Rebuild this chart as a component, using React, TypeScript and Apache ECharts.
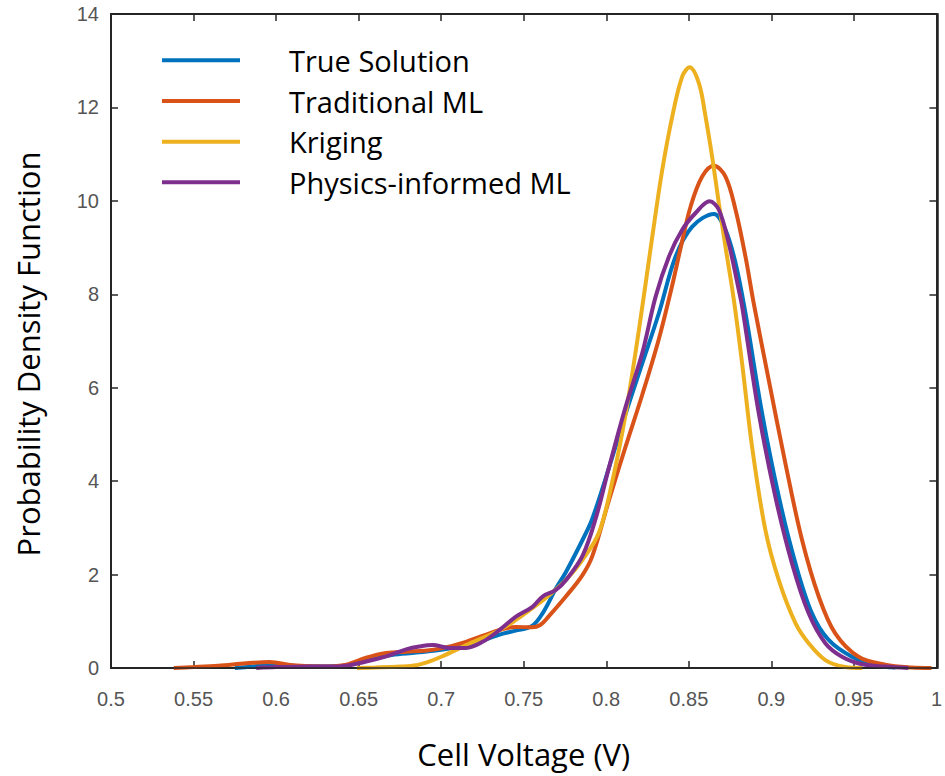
import React, { useEffect, useRef } from "react";
import * as echarts from "echarts";

// ---- data (x = cell voltage V, y = probability density) ----
const seriesNames = ["True Solution", "Traditional ML", "Kriging", "Physics-informed ML"];

const trueSolution: [number, number][] = [
  [0.575, 0], [0.585, 0.03], [0.6, 0.07], [0.615, 0.04], [0.63, 0.03], [0.645, 0.07],
  [0.655, 0.18], [0.67, 0.28], [0.685, 0.33], [0.7, 0.39], [0.72, 0.53], [0.735, 0.71],
  [0.745, 0.8], [0.755, 0.9], [0.7614, 1.17], [0.7695, 1.7], [0.7755, 2.05], [0.7856, 2.74],
  [0.7916, 3.2], [0.8037, 4.52], [0.8118, 5.45], [0.8218, 6.52], [0.8319, 7.6], [0.842, 8.81],
  [0.8521, 9.45], [0.8652, 9.72], [0.8722, 9.38], [0.8783, 8.67], [0.8843, 7.6], [0.8944, 5.45],
  [0.9045, 3.67], [0.9146, 2.24], [0.9246, 1.17], [0.9347, 0.6], [0.9488, 0.24], [0.963, 0.06],
  [0.975, 0.01],
];

const traditionalML: [number, number][] = [
  [0.538, 0], [0.55, 0.02], [0.565, 0.05], [0.582, 0.1], [0.596, 0.13], [0.61, 0.06],
  [0.63, 0.03], [0.6425, 0.07], [0.6546, 0.22], [0.6667, 0.32], [0.6788, 0.35], [0.69, 0.37],
  [0.7, 0.42], [0.715, 0.56], [0.735, 0.81], [0.745, 0.88], [0.755, 0.87], [0.76, 0.92],
  [0.765, 1.1], [0.7755, 1.53], [0.7856, 1.99], [0.7916, 2.4], [0.8017, 3.6], [0.8118, 4.75],
  [0.8218, 5.85], [0.8319, 7.05], [0.84, 8.2], [0.8451, 9.0], [0.8511, 9.88], [0.8581, 10.52],
  [0.8652, 10.75], [0.8722, 10.52], [0.8783, 9.81], [0.8843, 8.81], [0.8893, 7.81], [0.8984, 6.17],
  [0.9085, 4.38], [0.9186, 2.74], [0.9287, 1.53], [0.9387, 0.74], [0.9528, 0.24], [0.969, 0.07],
  [0.985, 0.01], [0.997, 0],
];

const kriging: [number, number][] = [
  [0.649, 0], [0.66, 0.01], [0.675, 0.03], [0.685, 0.06], [0.693, 0.14], [0.7, 0.24],
  [0.7152, 0.49], [0.7352, 0.81], [0.7453, 1.03], [0.7552, 1.28], [0.7654, 1.56], [0.7755, 1.88],
  [0.7855, 2.31], [0.7956, 2.9], [0.8037, 4.0], [0.8118, 5.45], [0.8198, 7.24], [0.8279, 9.24],
  [0.8339, 10.66], [0.84, 11.81], [0.846, 12.66], [0.8505, 12.86], [0.8561, 12.52], [0.8601, 11.81],
  [0.8641, 10.95], [0.8682, 9.95], [0.8722, 9.02], [0.8772, 7.9], [0.8823, 6.52], [0.8883, 4.74],
  [0.8964, 2.95], [0.9045, 1.88], [0.9146, 0.96], [0.9226, 0.53], [0.9327, 0.17], [0.9448, 0.02],
  [0.955, 0],
];

const physicsInformedML: [number, number][] = [
  [0.588, 0], [0.6, 0.02], [0.62, 0.03], [0.64, 0.04], [0.6546, 0.14], [0.6667, 0.25],
  [0.6788, 0.4], [0.6868, 0.46], [0.6949, 0.49], [0.705, 0.43], [0.715, 0.43], [0.7251, 0.56],
  [0.7352, 0.81], [0.7453, 1.1], [0.7553, 1.31], [0.7614, 1.53], [0.7695, 1.67], [0.7755, 1.88],
  [0.7856, 2.4], [0.7936, 3.2], [0.8017, 4.3], [0.8118, 5.6], [0.8218, 6.74], [0.8299, 7.95],
  [0.838, 8.81], [0.846, 9.38], [0.8541, 9.74], [0.8626, 9.99], [0.8682, 9.81], [0.8742, 9.09],
  [0.8803, 8.09], [0.8823, 7.74], [0.8924, 5.45], [0.9024, 3.67], [0.9125, 2.24], [0.9226, 1.17],
  [0.9327, 0.53], [0.9428, 0.24], [0.9549, 0.08], [0.969, 0.03], [0.983, 0],
];

const xTicks = [0.5, 0.55, 0.6, 0.65, 0.7, 0.75, 0.8, 0.85, 0.9, 0.95, 1];
const yTicks = [0, 2, 4, 6, 8, 10, 12, 14];

const colors = ["#0072BD", "#D95319", "#EDB120", "#7E2F8E"];

const GRID = { left: 111, right: 7, top: 14, bottom: 108 };
const W = 945;
const H = 776;

export default function App() {
  const ref = useRef<HTMLDivElement>(null);
  useEffect(() => {
    if (!ref.current) return;
    const chart = echarts.init(ref.current, null, { renderer: "svg" });
    const axisColor = "#262626";
    const labelStyle = {
      fontFamily: "Liberation Sans",
      fontSize: 20,
      color: "#555555",
    };
    const nameFont = "Open Sans";
    const datasets = [trueSolution, traditionalML, kriging, physicsInformedML];
    const mkLine = () => ({ show: true, onZero: false, lineStyle: { color: axisColor, width: 2 } });
    const mkTick = () => ({ show: true, inside: true, length: 7, lineStyle: { color: axisColor, width: 1.5 } });
    chart.setOption({
      animation: false,
      backgroundColor: "#ffffff",
      color: colors,
      grid: { ...GRID },
      graphic: [
        {
          type: "rect",
          z: 100,
          silent: true,
          shape: {
            x: GRID.left,
            y: GRID.top,
            width: W - GRID.left - GRID.right,
            height: H - GRID.top - GRID.bottom,
          },
          style: { fill: "none", stroke: axisColor, lineWidth: 1.5 },
        },
      ],
      legend: {
        data: seriesNames,
        orient: "vertical",
        left: 157,
        top: 35,
        icon: "rect",
        itemWidth: 78,
        itemHeight: 4,
        itemGap: 0,
        textStyle: {
          fontFamily: nameFont,
          fontSize: 29,
          lineHeight: 40.67,
          color: "#000000",
          padding: [0, 0, 0, 44],
        },
      },
      xAxis: [
        {
          type: "value",
          min: xTicks[0],
          max: xTicks[xTicks.length - 1],
          interval: 0.05,
          position: "bottom",
          name: "Cell Voltage (V)",
          nameLocation: "middle",
          nameGap: 70,
          nameTextStyle: { fontFamily: nameFont, fontSize: 31, color: "#000000" },
          axisLine: mkLine(),
          axisTick: mkTick(),
          splitLine: { show: false },
          axisLabel: {
            ...labelStyle,
            margin: 21,
            formatter: (v: number) => {
              const t = xTicks.find((x) => Math.abs(x - v) < 1e-6);
              return t === undefined ? "" : String(t);
            },
          },
        },
        {
          type: "value",
          min: xTicks[0],
          max: xTicks[xTicks.length - 1],
          interval: 0.05,
          position: "top",
          axisLine: mkLine(),
          axisTick: mkTick(),
          axisLabel: { show: false },
          splitLine: { show: false },
        },
      ],
      yAxis: [
        {
          type: "value",
          min: yTicks[0],
          max: yTicks[yTicks.length - 1],
          interval: 2,
          position: "left",
          name: "Probability Density Function",
          nameLocation: "middle",
          nameGap: 68,
          nameTextStyle: {
            fontFamily: nameFont,
            fontSize: 31,
            color: "#000000",
            padding: [0, 26, 0, 0],
          },
          axisLine: mkLine(),
          axisTick: mkTick(),
          splitLine: { show: false },
          axisLabel: { ...labelStyle, margin: 12 },
        },
        {
          type: "value",
          min: yTicks[0],
          max: yTicks[yTicks.length - 1],
          interval: 2,
          position: "right",
          axisLine: mkLine(),
          axisTick: mkTick(),
          axisLabel: { show: false },
          splitLine: { show: false },
        },
      ],
      series: seriesNames.map((name, i) => ({
        name,
        type: "line",
        xAxisIndex: 0,
        yAxisIndex: 0,
        data: datasets[i],
        smooth: 0.35,
        showSymbol: false,
        symbol: "none",
        lineStyle: { width: 4, color: colors[i] },
        itemStyle: { color: colors[i] },
        z: 2 + i,
      })),
    });
    return () => chart.dispose();
  }, []);
  return (
    <div
      ref={ref}
      style={{ position: "absolute", left: 0, top: 0, width: W, height: H }}
    />
  );
}
